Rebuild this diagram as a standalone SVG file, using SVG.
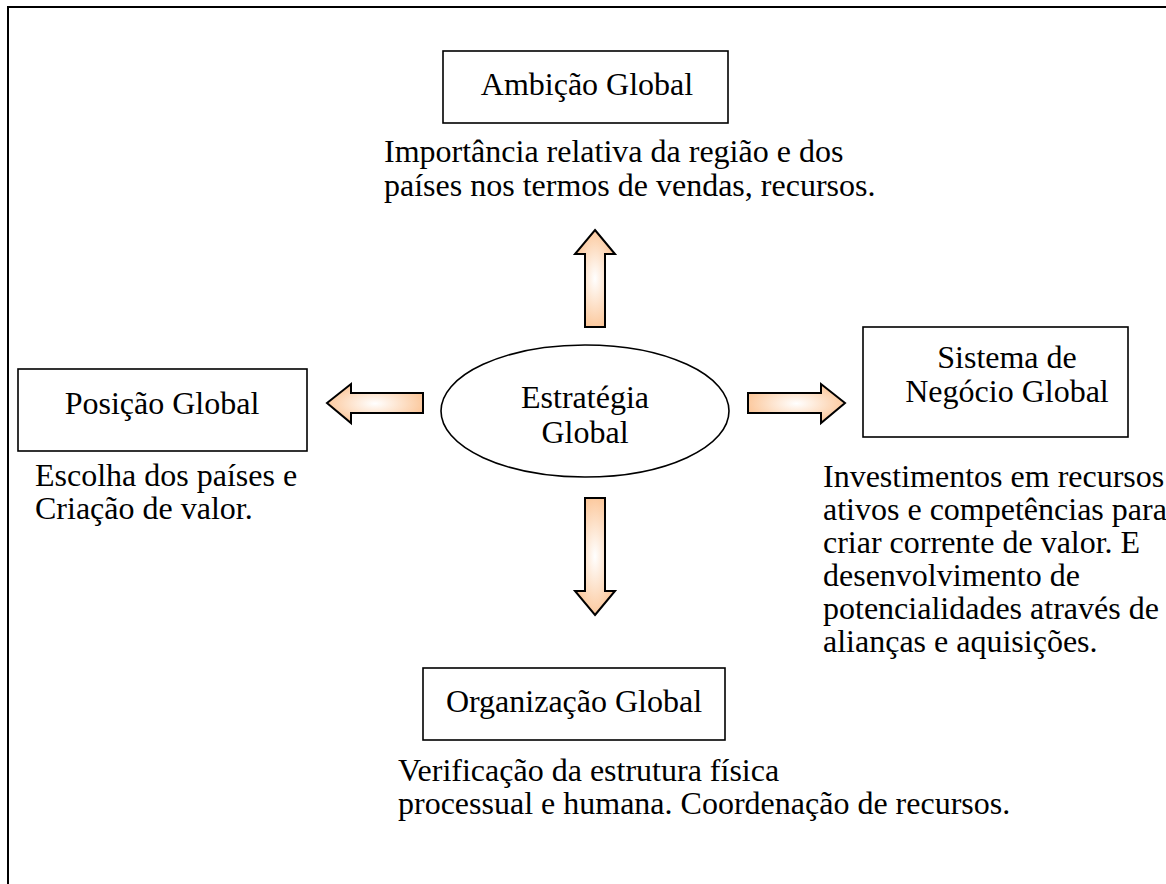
<svg xmlns="http://www.w3.org/2000/svg" width="1166" height="884" viewBox="0 0 1166 884">
<defs>
<radialGradient id="peach" cx="0.5" cy="0.5" r="0.6">
<stop offset="0" stop-color="#ffffff"/>
<stop offset="1" stop-color="#fbbf8c"/>
</radialGradient>
<style>
.box{fill:#fff;stroke:#000;stroke-width:1.6}
.arrow{fill:url(#peach);stroke:#000;stroke-width:2;stroke-linejoin:miter}
text{font-family:"Liberation Serif","Times New Roman",serif;font-size:32px;fill:#000}
.c{text-anchor:middle}
</style>
</defs>
<rect width="1166" height="884" fill="#fff"/>
<path d="M8,884 V7 H1166" fill="none" stroke="#000" stroke-width="2"/>

<g id="ambicao">
<rect class="box" x="443" y="51" width="285" height="72"/>
<text class="c" x="587" y="95">Ambição Global</text>
</g>
<g id="ambicao-desc">
<text x="384" y="162">Importância relativa da região e dos</text>
<text x="384" y="196">países nos termos de vendas, recursos.</text>
</g>

<g id="posicao">
<rect class="box" x="18" y="369" width="289" height="82"/>
<text class="c" x="162" y="414">Posição Global</text>
</g>
<g id="posicao-desc">
<text x="35" y="486">Escolha dos países e</text>
<text x="35" y="519">Criação de valor.</text>
</g>

<g id="estrategia">
<ellipse cx="585" cy="411" rx="144" ry="66" fill="#fff" stroke="#000" stroke-width="1.6"/>
<text class="c" x="585" y="408">Estratégia</text>
<text class="c" x="585" y="443">Global</text>
</g>

<g id="sistema">
<rect class="box" x="863" y="327" width="265" height="110"/>
<text class="c" x="1007" y="368">Sistema de</text>
<text class="c" x="1007" y="402">Negócio Global</text>
</g>
<g id="sistema-desc">
<text x="823" y="487">Investimentos em recursos</text>
<text x="823" y="520">ativos e competências para</text>
<text x="823" y="553">criar corrente de valor. E</text>
<text x="823" y="586">desenvolvimento de</text>
<text x="823" y="619">potencialidades através de</text>
<text x="823" y="652">alianças e aquisições.</text>
</g>

<g id="organizacao">
<rect class="box" x="423" y="668" width="302" height="72"/>
<text class="c" x="574" y="712">Organização Global</text>
</g>
<g id="organizacao-desc">
<text x="398" y="781">Verificação da estrutura física</text>
<text x="398" y="814">processual e humana. Coordenação de recursos.</text>
</g>

<g id="connectors">
<polygon class="arrow" points="595,230 615,254 605,254 605,327 585,327 585,254 575,254"/>
<polygon class="arrow" points="327,403 351,384 351,393 423,393 423,413 351,413 351,423"/>
<polygon class="arrow" points="845,403 821,384 821,393 748,393 748,413 821,413 821,423"/>
<polygon class="arrow" points="595,615 615,591 605,591 605,498 585,498 585,591 575,591"/>
</g>
</svg>
